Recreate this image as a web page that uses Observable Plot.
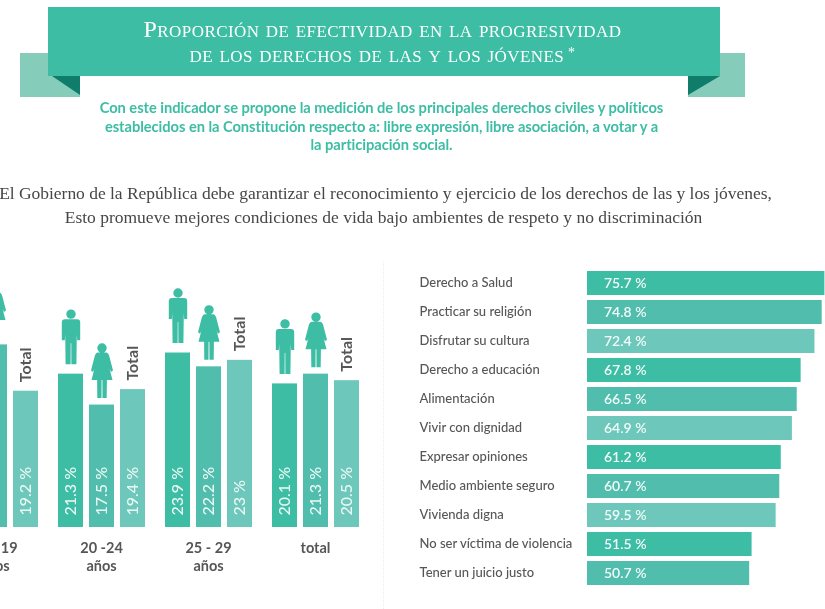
<!DOCTYPE html>
<html lang="es"><head><meta charset="utf-8">
<script src="https://cdn.jsdelivr.net/npm/d3@7"></script>
<script src="https://cdn.jsdelivr.net/npm/@observablehq/plot@0.6"></script>
<style>
html,body{margin:0;padding:0;background:#fff;overflow:hidden}
#page{position:relative;width:825px;height:609px;overflow:hidden;background:#fff;filter:blur(.4px)}
#page>*{position:absolute}
svg{display:block;overflow:hidden}
.line{left:-40px;width:845px;text-align:center;white-space:nowrap}
.title{font:24px/1 "Liberation Serif",serif;font-variant:small-caps;color:#fff;letter-spacing:.42px}
.intro{font:bold 14.7px/1 "Lato",sans-serif;color:#3dbda4;letter-spacing:-.05px}
.lead{font:17.5px/1 "Liberation Serif",serif;color:#474747}
#sep{left:383px;top:262px;height:347px;border-left:1px dotted #ececec}
</style></head><body>
<div id="page">
  <svg width="825" height="100" style="left:0;top:0">
    <rect x="20" y="53" width="60" height="44" fill="#85cdba"/>
    <rect x="688" y="53" width="57" height="44" fill="#85cdba"/>
    <rect x="48" y="7" width="672" height="69" fill="#3dbda4"/>
    <path d="M52 76H80V95Z" fill="#0f7d69"/>
    <path d="M688 95V76H720Z" fill="#0f7d69"/>
  </svg>
  <div class="line title" style="top:17px">Proporción de efectividad en la progresividad</div>
  <div class="line title" style="top:42px">de los derechos de las y los jóvenes<span style="font-size:14px;vertical-align:5px"> *</span></div>
  <div class="line intro" style="top:100px;left:-41px">Con este indicador se propone la medición de los principales derechos civiles y políticos</div>
  <div class="line intro" style="top:119px;left:-41px">establecidos en la Constitución respecto a: libre expresión, libre asociación, a votar y a</div>
  <div class="line intro" style="top:137px;left:-41px">la participación social.</div>
  <div class="line lead" style="top:185px;left:-37px;letter-spacing:-.03px">El Gobierno de la República debe garantizar el reconocimiento y ejercicio de los derechos de las y los jóvenes,</div>
  <div class="line lead" style="top:209px;left:-39px">Esto promueve mejores condiciones de vida bajo ambientes de respeto y no discriminación</div>
  <div id="sep"></div>
  <div id="left" style="left:0;top:270px"></div>
  <div id="right" style="left:385px;top:260px"></div>
</div>
<script>
// Left chart: age groups
const groups = ["15 - 19\naños", "20 -24\naños", "25 - 29\naños", "total"];
const seriesNames = ["Hombres", "Mujeres", "Total"];
const hombres = [null, 21.3, 23.9, 20.1];
const mujeres = [24.9, 17.5, 22.2, 21.3];
const totales = [19.2, 19.4, 23, 20.5];

// Right chart: rights
const derechos = ["Derecho a Salud", "Practicar su religión", "Disfrutar su cultura", "Derecho a educación", "Alimentación", "Vivir con dignidad", "Expresar opiniones", "Medio ambiente seguro", "Vivienda digna", "No ser víctima de violencia", "Tener un juicio justo"];
const porcentajes = [75.7, 74.8, 72.4, 67.8, 66.5, 64.9, 61.2, 60.7, 59.5, 51.5, 50.7];

const teal = ["#3cbda4", "#50bdad", "#6dc8bb"];
const ink = "#565656";
const sans = "Lato, sans-serif";

const rows = [];
groups.forEach((g, i) => {
  [hombres[i], mujeres[i], totales[i]].forEach((v, j) => {
    if (v != null) rows.push({group: g, series: seriesNames[j], value: v});
  });
});

// Pictograms: origin at the feet, pointing up
const man = {draw(c) {
  c.moveTo(4.7, -50); c.arc(0, -50, 4.7, 0, 2 * Math.PI); c.closePath();
  c.moveTo(-6, -45); c.lineTo(6, -45);
  c.quadraticCurveTo(9.2, -45, 9.2, -42);
  c.lineTo(9.2, -24); c.lineTo(6.2, -24); c.lineTo(5.8, -30);
  c.lineTo(5.4, 0); c.lineTo(0.4, 0); c.lineTo(0.3, -21); c.lineTo(-0.3, -21); c.lineTo(-0.4, 0);
  c.lineTo(-5.4, 0); c.lineTo(-5.8, -30); c.lineTo(-6.2, -24); c.lineTo(-9.2, -24);
  c.lineTo(-9.2, -42); c.quadraticCurveTo(-9.2, -45, -6, -45);
  c.closePath();
}};
const woman = {draw(c) {
  c.moveTo(4.7, -50); c.arc(0, -50, 4.7, 0, 2 * Math.PI); c.closePath();
  c.moveTo(-4, -45.5); c.lineTo(4, -45.5);
  c.quadraticCurveTo(6.5, -45.5, 7.5, -41);
  c.lineTo(11, -27.5); c.lineTo(9, -26); c.lineTo(7.6, -29);
  c.lineTo(10.5, -18); c.lineTo(4.9, -18); c.lineTo(4.7, 0); c.lineTo(0.5, 0); c.lineTo(0.4, -18);
  c.lineTo(-0.4, -18); c.lineTo(-0.5, 0); c.lineTo(-4.7, 0); c.lineTo(-4.9, -18); c.lineTo(-10.5, -18);
  c.lineTo(-7.6, -29); c.lineTo(-9, -26); c.lineTo(-11, -27.5); c.lineTo(-7.5, -41);
  c.quadraticCurveTo(-6.5, -45.5, -4, -45.5);
  c.closePath();
}};

const yMin = 2.44;
const left = Plot.plot({
  width: 385, height: 339,
  marginTop: 0, marginBottom: 82, marginLeft: 0, marginRight: 0,
  fx: {domain: groups, range: [-51, 360], paddingInner: 0.18, paddingOuter: 0, axis: null, label: null},
  x: {domain: seriesNames, paddingInner: 0.2, paddingOuter: 0, axis: null, label: null},
  y: {domain: [yMin, 34.05], axis: null, label: null},
  color: {domain: seriesNames, range: teal},
  marks: [
    Plot.rectY(rows, {fx: "group", x: "series", y1: () => yMin, y2: "value", fill: "series"}),
    Plot.dot(rows.filter(d => d.series === "Hombres"), {fx: "group", x: "series", y: "value", symbol: man, fill: teal[0], dy: -10, r: 5}),
    Plot.dot(rows.filter(d => d.series === "Mujeres"), {fx: "group", x: "series", y: "value", symbol: woman, fill: teal[0], dy: -7, r: 5}),
    Plot.text(rows.filter(d => d.series === "Total"), {fx: "group", x: "series", y: "value", text: () => "Total", rotate: -90, textAnchor: "start", dy: -9, fontSize: 16, fontFamily: sans, fontWeight: 700, fill: ink, letterSpacing: 0.6}),
    Plot.text(rows, {fx: "group", x: "series", frameAnchor: "bottom", text: d => `${d.value} %`, rotate: -90, textAnchor: "start", dx: 4.5, dy: -12, fontSize: 16, fontFamily: sans, fontWeight: 500, fill: "#eaf8f5", letterSpacing: 0.8}),
    Plot.text(groups, {fx: d => d, frameAnchor: "bottom", text: d => d, lineAnchor: "top", dy: 13, lineHeight: 1.25, fontSize: 14.5, fontFamily: sans, fontWeight: 700, fill: ink})
  ]
});
document.getElementById("left").append(left);

const xMin = -3.2;
const rowsRight = derechos.map((name, i) => ({name, value: porcentajes[i], tone: i % 3}));
const right = Plot.plot({
  width: 440, height: 349,
  marginTop: 10, marginBottom: 24, marginLeft: 202, marginRight: 0,
  x: {domain: [xMin, 75.9], axis: null, label: null},
  y: {domain: derechos, paddingInner: 0.18, paddingOuter: 0, axis: null, label: null},
  color: {domain: [0, 1, 2], range: teal, type: "ordinal"},
  marks: [
    Plot.barX(rowsRight, {y: "name", x1: () => xMin, x2: "value", fill: "tone"}),
    Plot.text(rowsRight, {y: "name", frameAnchor: "left", text: d => `${d.value} %`, textAnchor: "start", dx: 16.5, dy: 0.5, fontSize: 14, fontFamily: sans, fontWeight: 600, fill: "#f2fbf9"}),
    Plot.text(rowsRight, {y: "name", frameAnchor: "left", text: "name", textAnchor: "start", dx: -168, dy: -1, fontSize: 13, fontFamily: sans, fontWeight: 500, fill: ink})
  ]
});
document.getElementById("right").append(right);
</script>
</body></html>
